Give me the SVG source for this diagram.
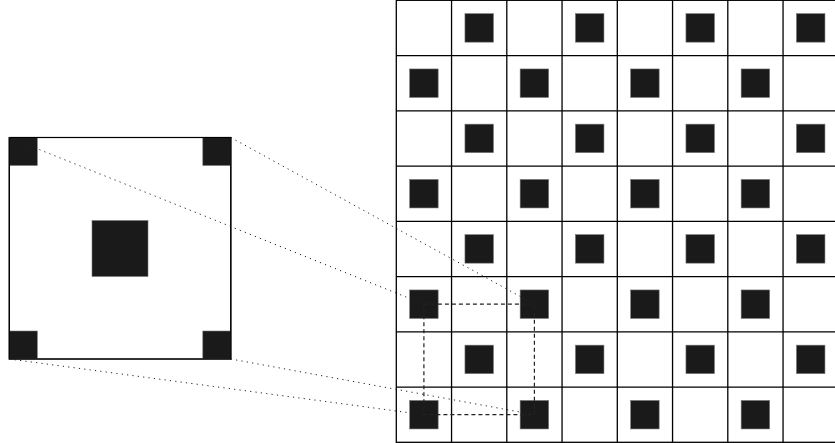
<svg xmlns="http://www.w3.org/2000/svg" width="835" height="443" viewBox="0 0 835 443">
<style>
.cell{fill:#fff;stroke:#000;stroke-width:1.3}
.blk{fill:#1a1a1a;stroke:#777;stroke-width:0.6}
.frame{fill:#fff;stroke:#000;stroke-width:1.2}
.dot{fill:none;stroke:#222;stroke-width:1;stroke-dasharray:1.2 4.2}
.dash{fill:none;stroke:#222;stroke-width:1.2;stroke-dasharray:4 3}
</style>
<defs>
<rect id="sq" x="-14.25" y="-14.25" width="28.5" height="28.5" class="blk"/>
</defs>
<rect width="835" height="443" fill="#fff"/>
<g id="grid">
<g id="cells">
<rect class="cell" x="396.3" y="0.3" width="442" height="442" />
<path fill="none" stroke="#000" stroke-width="1.3" d="M451.55 0V443M506.8 0V443M562.05 0V443M617.3 0V443M672.55 0V443M727.8 0V443M783.05 0V443M396 55.55H835M396 110.8H835M396 166.05H835M396 221.3H835M396 276.55H835M396 331.8H835M396 387.05H835"/>
</g>
<g id="squares">
<use href="#sq" x="479.2" y="27.9"/><use href="#sq" x="589.7" y="27.9"/><use href="#sq" x="700.2" y="27.9"/><use href="#sq" x="810.7" y="27.9"/>
<use href="#sq" x="423.9" y="83.2"/><use href="#sq" x="534.4" y="83.2"/><use href="#sq" x="644.9" y="83.2"/><use href="#sq" x="755.4" y="83.2"/>
<use href="#sq" x="479.2" y="138.4"/><use href="#sq" x="589.7" y="138.4"/><use href="#sq" x="700.2" y="138.4"/><use href="#sq" x="810.7" y="138.4"/>
<use href="#sq" x="423.9" y="193.7"/><use href="#sq" x="534.4" y="193.7"/><use href="#sq" x="644.9" y="193.7"/><use href="#sq" x="755.4" y="193.7"/>
<use href="#sq" x="479.2" y="248.9"/><use href="#sq" x="589.7" y="248.9"/><use href="#sq" x="700.2" y="248.9"/><use href="#sq" x="810.7" y="248.9"/>
<use href="#sq" x="423.9" y="304.2"/><use href="#sq" x="534.4" y="304.2"/><use href="#sq" x="644.9" y="304.2"/><use href="#sq" x="755.4" y="304.2"/>
<use href="#sq" x="479.2" y="359.4"/><use href="#sq" x="589.7" y="359.4"/><use href="#sq" x="700.2" y="359.4"/><use href="#sq" x="810.7" y="359.4"/>
<use href="#sq" x="423.9" y="414.7"/><use href="#sq" x="534.4" y="414.7"/><use href="#sq" x="644.9" y="414.7"/><use href="#sq" x="755.4" y="414.7"/>
</g>
</g>
<g id="magnified">
<rect class="frame" x="9.3" y="137.5" width="221.5" height="221.5"/>
<rect class="blk" x="9.3" y="137.5" width="28" height="28"/>
<rect class="blk" x="202.8" y="137.5" width="28" height="28"/>
<rect class="blk" x="9.3" y="331" width="28" height="28"/>
<rect class="blk" x="202.8" y="331" width="28" height="28"/>
<rect class="blk" x="92" y="220.5" width="56" height="56"/>
<path fill="none" stroke="#000" stroke-width="1.2" d="M9.3 137.5H230.8V359H9.3Z"/>
</g>
<g id="connectors">
<rect class="dash" x="423.9" y="304.2" width="110.5" height="110.5"/>
<line class="dot" x1="9.3" y1="137.5" x2="423.9" y2="304.2"/>
<line class="dot" x1="230.8" y1="137.5" x2="534.4" y2="304.2"/>
<line class="dot" x1="9.3" y1="359" x2="423.9" y2="414.7"/>
<line class="dot" x1="230.8" y1="359" x2="534.4" y2="414.7"/>
</g>
</svg>
